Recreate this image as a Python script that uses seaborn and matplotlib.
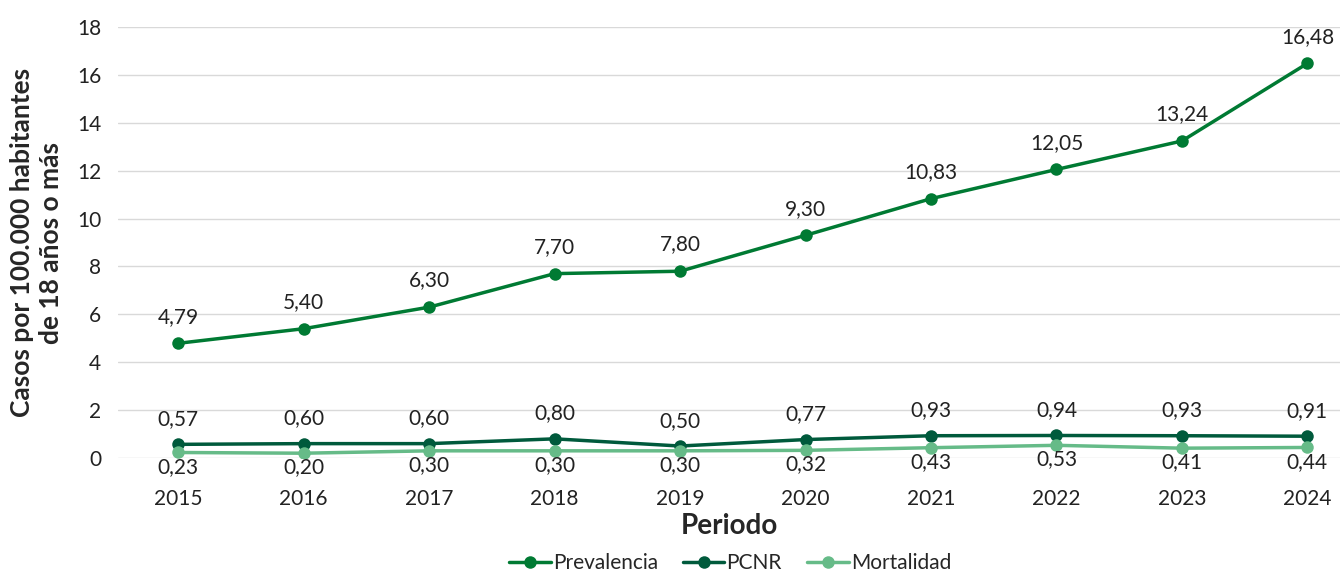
import matplotlib
matplotlib.use("Agg")
import numpy as np
import pandas as pd
import matplotlib.pyplot as plt
import seaborn as sns

# Datos
years = ["2015", "2016", "2017", "2018", "2019", "2020", "2021", "2022", "2023", "2024"]
prevalencia = [4.79, 5.40, 6.30, 7.70, 7.80, 9.30, 10.83, 12.05, 13.24, 16.48]
pcnr = [0.57, 0.60, 0.60, 0.80, 0.50, 0.77, 0.93, 0.94, 0.93, 0.91]
mortalidad = [0.23, 0.20, 0.30, 0.30, 0.30, 0.32, 0.43, 0.53, 0.41, 0.44]

series_names = ["Prevalencia", "PCNR", "Mortalidad"]
colors = {"Prevalencia": "#007a33", "PCNR": "#005a3c", "Mortalidad": "#66bb88"}

df = pd.DataFrame({
    "Periodo": list(range(len(years))) * 3,
    "Valor": prevalencia + pcnr + mortalidad,
    "Serie": [s for s in series_names for _ in years],
})

sns.set_theme(style="white")
plt.rcParams["font.family"] = ["Lato", "DejaVu Sans"]

fig = plt.figure(figsize=(13.4, 5.73), dpi=100)
ax = fig.add_axes([118 / 1340, 1 - 458 / 573, 1 - 118 / 1340, (458 - 27) / 573])

sns.lineplot(data=df, x="Periodo", y="Valor", hue="Serie", hue_order=series_names,
             palette=colors, marker="o", markersize=9, markeredgewidth=0,
             linewidth=2.5, ax=ax)

def fmt(v):
    return f"{v:.2f}".replace(".", ",")

for i, v in enumerate(prevalencia):
    ax.annotate(fmt(v), (i, v), xytext=(0, 12), textcoords="offset points",
                ha="center", va="bottom", fontsize=15, color="#222222")
for i, v in enumerate(pcnr):
    ax.annotate(fmt(v), (i, v), xytext=(0, 11), textcoords="offset points",
                ha="center", va="bottom", fontsize=15, color="#222222")
for i, v in enumerate(mortalidad):
    ax.annotate(fmt(v), (i, v), xytext=(0, -3), textcoords="offset points",
                ha="center", va="top", fontsize=15, color="#222222")

ax.set_ylim(0, 18)
ax.set_yticks(range(0, 19, 2))
ax.set_xlim(-0.48, 9.26)
ax.set_xticks(range(len(years)))
ax.set_xticklabels(years)
ax.tick_params(axis="both", labelsize=15, length=0, colors="#222222")
ax.tick_params(axis="x", pad=22)
ax.tick_params(axis="y", pad=12)
ax.grid(axis="y", color="#d9d9d9", linewidth=1)
for s in ax.spines.values():
    s.set_visible(False)

ax.set_xlabel("Periodo", fontsize=20, fontweight="bold", labelpad=3)
ax.set_ylabel("Casos por 100.000 habitantes\nde 18 años o más", fontsize=19,
              fontweight="bold", labelpad=10, linespacing=1.25)

handles, labels = ax.get_legend_handles_labels()
ax.legend_.remove()
fig.legend(handles, labels, loc="center", bbox_to_anchor=(730 / 1340, 1 - 563 / 573),
           ncol=3, frameon=False, fontsize=15, handlelength=2.0, handletextpad=0.1,
           columnspacing=1.2, borderaxespad=0, borderpad=0)

fig.savefig("out.png", dpi=100)
